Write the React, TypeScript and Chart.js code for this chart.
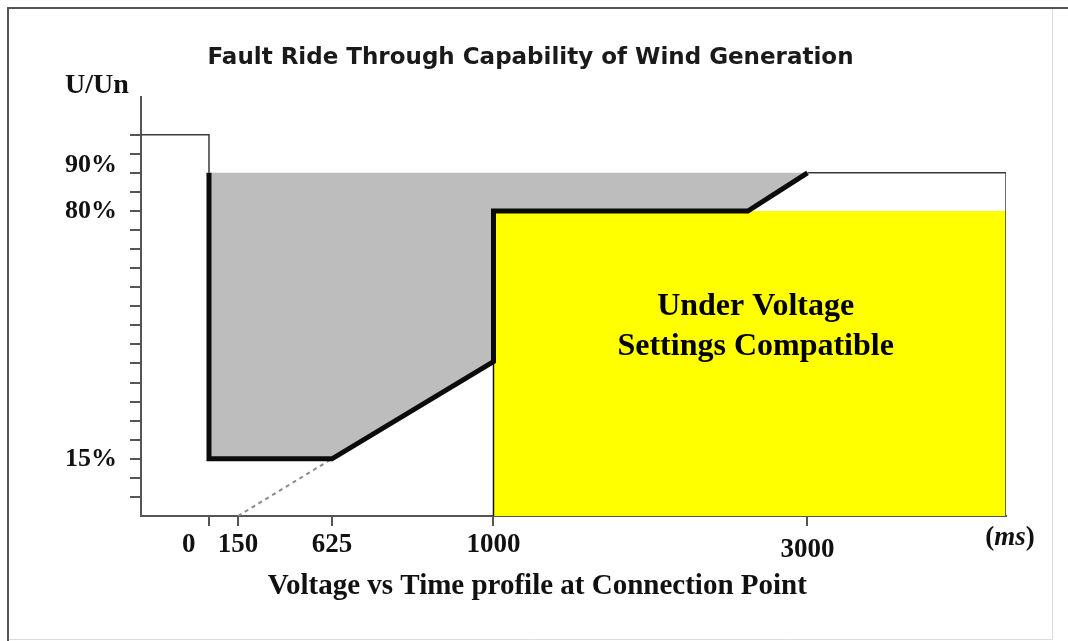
import React, { useEffect, useRef } from 'react';
import { Chart, registerables, LinearScale } from 'chart.js';

// ---------------- data ----------------
const chartTitle = 'Fault Ride Through Capability of Wind Generation';
const xAxisTitle = 'Voltage vs Time profile at Connection Point';
const yAxisLabel = 'U/Un';
const xUnitLabel = 'ms';
const regionLabel = ['Under Voltage', 'Settings Compatible'];

const xTickValues = [0, 150, 625, 1000, 3000];
const xTickLabels = ['0', '150', '625', '1000', '3000'];
const yTickValues = [5, 10, 15, 20, 25, 30, 35, 40, 45, 50, 55, 60, 65, 70, 75, 80, 85, 90, 95, 100];
const yLabelValues = [90, 80, 15];
const yLabelTexts = ['90%', '80%', '15%'];

const xMin = -350;
const xMax = 4260;
const yMin = 0;
const yMax = 110;

// fault ride through envelope (time in ms, voltage in % of Un)
const envelopeTime = [0, 0, 625, 1000, 1000, 2620, 3000];
const envelopeVolt = [90, 15, 15, 40.5, 80, 80, 90];
// pre-fault level
const preFaultTime = [-350, 0, 0];
const preFaultVolt = [100, 100, 90];
// post-fault level
const postFaultTime = [3000, 4260, 4260];
const postFaultVolt = [90, 90, 0];
// dashed extrapolation
const extrapTime = [150, 625];
const extrapVolt = [0, 15];
// under-voltage settings region
const uvTime = [1000, 1000, 4260, 4260];
const uvVolt = [0, 80, 80, 0];
const uvEdgeTime = [1000, 1000];
const uvEdgeVolt = [0, 80];
// anchor of the region caption (ms, %)
const uvCaptionTime = 2670;
const uvCaptionVolt = [54.8, 44.3];

const pts = (xs: number[], ys: number[]) => xs.map((x, i) => ({ x, y: ys[i] }));

// ---------------- schematic (piecewise) time axis ----------------
const X_KNOTS: [number, number][] = [
  [-350, 0],
  [0, 0.0786],
  [150, 0.1121],
  [625, 0.2208],
  [1000, 0.4075],
  [3000, 0.7705],
  [4260, 1],
];

class PiecewiseScale extends LinearScale {
  static id = 'piecewise';
  static defaults = LinearScale.defaults;

  _toDecimal(v: number) {
    const k = X_KNOTS;
    let i = 0;
    if (v <= k[0][0]) i = 0;
    else if (v >= k[k.length - 1][0]) i = k.length - 2;
    else {
      while (i < k.length - 2 && v > k[i + 1][0]) i++;
    }
    const [v0, d0] = k[i];
    const [v1, d1] = k[i + 1];
    return d0 + ((v - v0) / (v1 - v0)) * (d1 - d0);
  }

  _fromDecimal(d: number) {
    const k = X_KNOTS;
    let i = 0;
    if (d <= k[0][1]) i = 0;
    else if (d >= k[k.length - 1][1]) i = k.length - 2;
    else {
      while (i < k.length - 2 && d > k[i + 1][1]) i++;
    }
    const [v0, d0] = k[i];
    const [v1, d1] = k[i + 1];
    return v0 + ((d - d0) / (d1 - d0)) * (v1 - v0);
  }

  getPixelForValue(value: any) {
    if (value === null || value === undefined || isNaN(value)) return NaN;
    return this.getPixelForDecimal(this._toDecimal(+value));
  }

  getValueForPixel(pixel: number) {
    return this._fromDecimal(this.getDecimalForPixel(pixel));
  }
}

Chart.register(...registerables, PiecewiseScale);

const SERIF = '"Liberation Serif", "Times New Roman", serif';

const decorPlugin = {
  id: 'decor',
  beforeDraw(chart: any) {
    const { ctx, width, height } = chart;
    ctx.save();
    ctx.fillStyle = '#ffffff';
    ctx.fillRect(0, 0, width, height);
    // picture frame
    ctx.strokeStyle = '#dcdcdc';
    ctx.lineWidth = 1;
    ctx.beginPath();
    ctx.moveTo(9, 639.5);
    ctx.lineTo(1052.5, 639.5);
    ctx.lineTo(1052.5, 9);
    ctx.stroke();
    ctx.strokeStyle = '#555555';
    ctx.lineWidth = 2;
    ctx.beginPath();
    ctx.moveTo(8, height);
    ctx.lineTo(8, 8);
    ctx.lineTo(width, 8);
    ctx.stroke();
    ctx.restore();
  },
  afterDraw(chart: any) {
    const { ctx, chartArea, scales } = chart;
    ctx.save();
    ctx.fillStyle = '#111111';
    ctx.textBaseline = 'middle';

    // y axis caption
    ctx.font = `bold 28px ${SERIF}`;
    ctx.textAlign = 'left';
    ctx.fillText(yAxisLabel, chartArea.left - 76, chartArea.top - 11);

    // unit caption "(ms)"
    const boldF = `bold 27px ${SERIF}`;
    const italF = `italic bold 27px ${SERIF}`;
    ctx.font = boldF;
    const pw = ctx.measureText('(').width;
    const cw = ctx.measureText(')').width;
    ctx.font = italF;
    const mw = ctx.measureText(xUnitLabel).width;
    const total = pw + mw + cw;
    let ux = chartArea.right + 4 - total / 2;
    const uy = chartArea.bottom + 22;
    ctx.textAlign = 'left';
    ctx.font = boldF;
    ctx.fillText('(', ux, uy);
    ux += pw;
    ctx.font = italF;
    ctx.fillText(xUnitLabel, ux, uy);
    ux += mw;
    ctx.font = boldF;
    ctx.fillText(')', ux, uy);

    // region caption
    ctx.font = `bold 32px ${SERIF}`;
    ctx.textAlign = 'center';
    ctx.fillStyle = '#000000';
    const cx = scales.x.getPixelForValue(uvCaptionTime);
    regionLabel.forEach((t, i) => {
      ctx.fillText(t, cx, scales.y.getPixelForValue(uvCaptionVolt[i]));
    });
    ctx.restore();
  },
};

export default function App() {
  const ref = useRef<HTMLCanvasElement | null>(null);

  useEffect(() => {
    if (!ref.current) return;
    const chart = new Chart(ref.current, {
      type: 'line',
      data: {
        datasets: [
          {
            label: 'Fault ride through envelope',
            data: pts(envelopeTime, envelopeVolt),
            borderColor: '#0b0b0b',
            borderWidth: 5,
            backgroundColor: '#bdbdbd',
            fill: 'shape',
            pointRadius: 0,
            borderJoinStyle: 'miter',
            tension: 0,
          },
          {
            label: 'Pre-fault',
            data: pts(preFaultTime, preFaultVolt),
            borderColor: '#3a3a3a',
            borderWidth: 1.5,
            fill: false,
            pointRadius: 0,
          },
          {
            label: 'Post-fault',
            data: pts(postFaultTime, postFaultVolt),
            borderColor: '#3a3a3a',
            borderWidth: 1.5,
            fill: false,
            pointRadius: 0,
          },
          {
            label: 'Extrapolation',
            data: pts(extrapTime, extrapVolt),
            borderColor: '#8a8a8a',
            borderWidth: 2,
            borderDash: [4, 4],
            fill: false,
            pointRadius: 0,
          },
          {
            label: 'Under voltage edge',
            data: pts(uvEdgeTime, uvEdgeVolt),
            borderColor: '#111111',
            borderWidth: 1.5,
            fill: false,
            pointRadius: 0,
          },
          {
            label: 'Under Voltage Settings Compatible',
            data: pts(uvTime, uvVolt),
            borderColor: 'rgba(0,0,0,0)',
            borderWidth: 1,
            backgroundColor: '#ffff00',
            fill: 'shape',
            pointRadius: 0,
          },
        ],
      },
      options: {
        animation: false,
        responsive: true,
        maintainAspectRatio: false,
        events: [],
        layout: { padding: { left: 55, right: 62, top: 0, bottom: 0 } },
        plugins: {
          legend: { display: false },
          tooltip: { enabled: false },
          title: {
            display: true,
            text: chartTitle,
            color: '#1a1a1a',
            font: { family: '"DejaVu Sans", sans-serif', weight: 'bold', size: 23, lineHeight: 1.2 },
            padding: { top: 44, bottom: 25 },
          },
        },
        scales: {
          x: {
            type: 'piecewise',
            min: xMin,
            max: xMax,
            z: 1,
            afterBuildTicks: (s: any) => {
              s.ticks = xTickValues.map((v) => ({ value: v }));
            },
            afterFit: (s: any) => {
              s.height = 125;
            },
            ticks: {
              autoSkip: false,
              maxRotation: 0,
              minRotation: 0,
              padding: 16.5,
              color: '#111111',
              font: { family: SERIF, weight: 'bold', size: 27, lineHeight: '5px' },
              callback: (value: any) => {
                const i = xTickValues.indexOf(value);
                if (i < 0) return '';
                const label = xTickLabels[i];
                if (value === 0) return label + '      ';
                if (value === 3000) return ['', label];
                return label;
              },
            },
            grid: {
              display: true,
              drawOnChartArea: false,
              drawTicks: true,
              tickLength: 10,
              color: '#555555',
              lineWidth: 2,
            },
            border: { display: true, color: '#555555', width: 2 },
            title: {
              display: true,
              text: xAxisTitle + '          ',
              color: '#111111',
              font: { family: SERIF, weight: 'bold', size: 29, lineHeight: 1.2 },
              padding: { top: 0, bottom: 36.6 },
            },
          },
          y: {
            type: 'linear',
            min: yMin,
            max: yMax,
            z: 1,
            afterBuildTicks: (s: any) => {
              s.ticks = yTickValues.map((v) => ({ value: v }));
            },
            afterFit: (s: any) => {
              s.width = 86;
            },
            ticks: {
              autoSkip: false,
              padding: 13,
              color: '#111111',
              font: { family: SERIF, weight: 'bold', size: 26, lineHeight: '16px' },
              callback: (value: any) => {
                const i = yLabelValues.indexOf(value);
                if (i < 0) return '';
                if (value === 90) return [yLabelTexts[i], ''];
                return yLabelTexts[i];
              },
            },
            grid: {
              display: true,
              drawOnChartArea: false,
              drawTicks: true,
              tickLength: 11,
              color: '#555555',
              lineWidth: 2,
            },
            border: { display: true, color: '#555555', width: 2 },
          },
        },
      },
      plugins: [decorPlugin],
    } as any);
    return () => chart.destroy();
  }, []);

  return (
    <div style={{ position: 'fixed', left: 0, top: 0, width: 1068, height: 641, background: '#ffffff' }}>
      <canvas ref={ref} />
    </div>
  );
}
